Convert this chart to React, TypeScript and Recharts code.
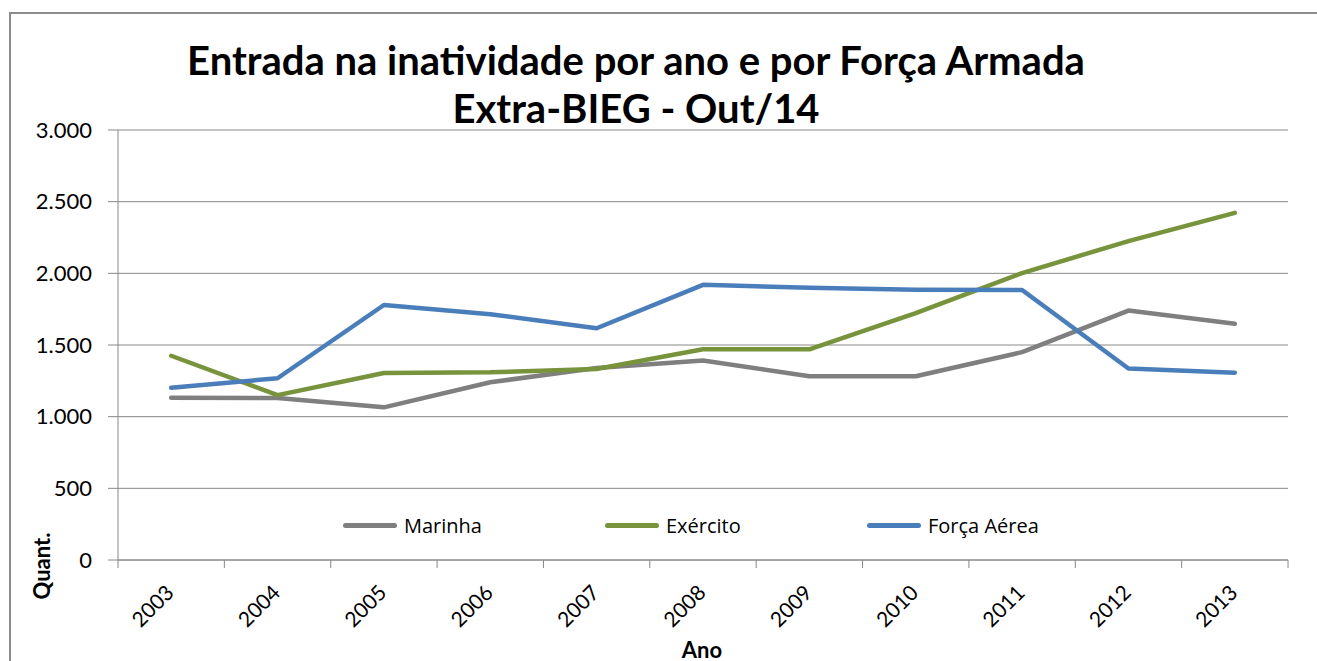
import React from 'react';
import { LineChart, Line, XAxis, YAxis, CartesianGrid, Legend } from 'recharts';

const years = ['2003', '2004', '2005', '2006', '2007', '2008', '2009', '2010', '2011', '2012', '2013'];
const marinha = [1132, 1130, 1065, 1240, 1340, 1392, 1282, 1282, 1450, 1740, 1648];
const exercito = [1425, 1150, 1305, 1310, 1332, 1470, 1470, 1722, 2002, 2225, 2422];
const forcaAerea = [1202, 1268, 1779, 1715, 1617, 1920, 1900, 1885, 1884, 1336, 1307];
const yTicks = [0, 500, 1000, 1500, 2000, 2500, 3000];

const series = [
  { key: 'marinha', name: 'Marinha', color: '#7F7F7F' },
  { key: 'exercito', name: 'Exército', color: '#77933C' },
  { key: 'forcaAerea', name: 'Força Aérea', color: '#4A7EBB' },
];

const data = years.map((ano, i) => ({
  ano,
  marinha: marinha[i],
  exercito: exercito[i],
  forcaAerea: forcaAerea[i],
}));

const FONT = 'Lato, "Open Sans", sans-serif';
const GRID = '#888888';
const PLOT_LEFT = 118;
const PLOT_RIGHT = 1288;
const HALF_BAND = (PLOT_RIGHT - PLOT_LEFT) / years.length / 2;

const fmt = (v: number) => v.toString().replace(/\B(?=(\d{3})+(?!\d))/g, '.');

// year label rotated, plus the tick marks between categories
const YearTick = (props: any) => {
  const { x, y, payload, index } = props;
  const last = index === years.length - 1;
  return (
    <g>
      <line x1={x - HALF_BAND} y1={y} x2={x - HALF_BAND} y2={y + 8} stroke={GRID} />
      {last && <line x1={x + HALF_BAND} y1={y} x2={x + HALF_BAND} y2={y + 8} stroke={GRID} />}
      <text
        x={x + 4}
        y={y + 34}
        textAnchor="end"
        fontSize={21}
        fontFamily={FONT}
        fill="#000"
        transform={`rotate(-45, ${x + 4}, ${y + 34})`}
      >
        {payload.value}
      </text>
    </g>
  );
};

const LegendBox = () => (
  <div style={{ display: 'flex', fontFamily: '"Liberation Sans Narrow", "Open Sans", sans-serif', fontSize: 20 }}>
    {series.map((s) => (
      <div key={s.key} style={{ width: 262, display: 'flex', alignItems: 'center' }}>
        <span style={{ display: 'inline-block', width: 54, height: 5, borderRadius: 3, background: s.color, marginRight: 7 }} />
        <span>{s.name}</span>
      </div>
    ))}
  </div>
);

export default function App() {
  return (
    <div style={{ position: 'absolute', left: 0, top: 0, width: 1317, height: 661, overflow: 'hidden', background: '#fff' }}>
      <div style={{ position: 'absolute', left: 9, top: 12, width: 1400, height: 700, border: '2px solid #8c8c8c' }} />
      <div style={{ position: 'absolute', left: 0, width: 1272, top: 36, textAlign: 'center', fontFamily: FONT, fontWeight: 700, fontSize: 40, lineHeight: '48px' }}>
        Entrada na inatividade por ano e por Força Armada
        <br />
        Extra-BIEG - Out/14
      </div>
      <div style={{ position: 'absolute', left: 41, top: 566, transform: 'translate(-50%, -50%) rotate(-90deg)', fontFamily: FONT, fontWeight: 700, fontSize: 22, whiteSpace: 'nowrap' }}>
        Quant.
      </div>
      <div style={{ position: 'absolute', left: 702, top: 649, transform: 'translate(-50%, -50%)', fontFamily: FONT, fontWeight: 700, fontSize: 22 }}>
        Ano
      </div>
      <div style={{ position: 'absolute', left: 0, top: 0 }}>
        <LineChart width={1317} height={661} data={data} margin={{ top: 130, right: 1317 - PLOT_RIGHT, bottom: 0, left: 0 }}>
          <CartesianGrid vertical={false} stroke={GRID} strokeWidth={1} />
          <XAxis
            dataKey="ano"
            height={101}
            padding={{ left: HALF_BAND, right: HALF_BAND }}
            axisLine={{ stroke: GRID }}
            tickLine={false}
            tickSize={0}
            tickMargin={0}
            interval={0}
            tick={<YearTick />}
          />
          <YAxis
            width={PLOT_LEFT}
            domain={[0, 3000]}
            ticks={yTicks}
            tickFormatter={fmt}
            axisLine={{ stroke: GRID }}
            tickLine={{ stroke: GRID }}
            tickSize={10}
            tickMargin={16}
            tick={{ fill: '#000', fontSize: 22, fontFamily: FONT }}
          />
          <Legend
            layout="horizontal"
            verticalAlign="middle"
            align="center"
            content={<LegendBox />}
            wrapperStyle={{ position: 'absolute', left: 343, top: 512, width: 800 }}
          />
          {series.map((s) => (
            <Line
              key={s.key}
              type="linear"
              dataKey={s.key}
              name={s.name}
              stroke={s.color}
              strokeWidth={4.5}
              strokeLinejoin="round"
              strokeLinecap="round"
              dot={false}
              activeDot={false}
              isAnimationActive={false}
            />
          ))}
        </LineChart>
      </div>
    </div>
  );
}
